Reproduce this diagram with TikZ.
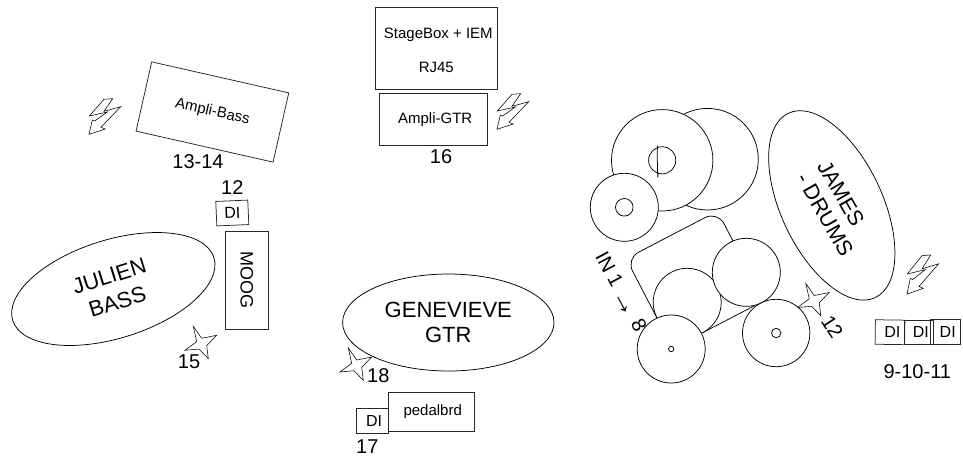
\documentclass[tikz,border=0pt]{standalone}
\usepackage{fontspec}
\setmainfont{Liberation Sans}
\usetikzlibrary{shapes.geometric}
\newcommand{\fsz}[1]{\fontsize{#1}{#1}\selectfont}
\tikzset{
  every path/.style={line width=0.75pt},
  box/.style={draw=black!85,fill=white,rectangle,inner sep=0pt,font=\fsz{15},align=center},
  dibox/.style={box,minimum width=29.5pt,minimum height=24.5pt,font=\fsz{16}},
  person/.style={draw=black,fill=white,ellipse,inner sep=0pt,font=\fsz{22},align=center},
  kit/.style={draw=black,fill=white,circle,inner sep=0pt},
  num/.style={inner sep=0pt,font=\fsz{20}},
  boltline/.style={draw=black,fill=white,line width=0.55pt,line join=miter},
  starline/.style={draw=black,fill=white,line width=0.55pt},
}
\newcommand{\bolt}[3]{\draw[boltline,shift={(#1,#2)},yscale=#3] (7.7,-17.3) -- (-1,-16.7) -- (-15.7,0) -- (2.3,-4) -- (-10.3,5) -- (-12.7,4) -- (-16,18.3) -- (0.3,13) -- (-4,11.3) -- (15.7,-9.3) -- (-1,-4.7) -- cycle;}
\newcommand{\spark}[2]{\draw[starline,shift={(#1,#2)}] (-7.7,-16) -- (0.7,-4) -- (15.7,-7) -- (5.7,3.3) -- (7.3,16.3) -- (-2,6.7) -- (-16,8) -- (-4.3,-0.7) -- cycle;}
\begin{document}
\begin{tikzpicture}[x=1pt,y=-1pt]
\useasboundingbox (0,0) rectangle (963,459);
% Bass corner
\node[box,rotate=-12.75,minimum width=140.5pt,minimum height=71pt] (ampbass) at (212.4,112) {\raisebox{-2.5pt}{Ampli-Bass}};
\bolt{105}{116}{1}
\node[num] (n1314) at (198,161.7) {13-14};
\node[num] (n12a) at (232.3,187.7) {12};
\node[dibox,rotate=2.5,minimum width=32pt] (di12) at (232.3,213) {DI};
\node[person,rotate=17.3,minimum width=210.8pt,minimum height=98.4pt] (julien) at (113.3,289) {JULIEN\\[5pt]BASS};
\node[box,rotate=-90,minimum width=98.3pt,minimum height=43pt,font=\fsz{18}] (moog) at (246.8,280.2) {MOOG};
\spark{201}{342.3}
\node[num] (n15) at (189,361.7) {15};
% Stage centre
\node[box,minimum width=122.7pt,minimum height=82.3pt] (stage) at (436.3,48.2) {\hspace*{4pt}\rule{0pt}{14pt}StageBox + IEM\\[19pt]RJ45};
\node[box,minimum width=107.7pt,minimum height=52pt] (ampgtr) at (433.2,119.7) {\hspace*{4pt}\raisebox{-2.5pt}{Ampli-GTR}};
\bolt{513}{111}{1}
\node[num] (n16) at (441,156.7) {16};
\node[person,minimum width=211.4pt,minimum height=97pt] (gen) at (448.3,322.5) {GENEVIEVE\\[2.5pt]GTR};
\spark{356}{364}
\node[num] (n18) at (378.3,375.3) {18};
\node[box,minimum width=86.3pt,minimum height=38.7pt] (pedal) at (431.2,411.7) {\hspace*{3pt}\raisebox{-2pt}{pedalbrd}};
\node[dibox,minimum width=32pt,minimum height=25pt] (di17) at (372,421.2) {\hspace*{4pt}DI};
\node[num] (n17) at (367.3,446.7) {17};
% Drums
\node[kit,minimum size=101.6pt] (cymb2) at (707.5,159.2) {};
\node[kit,minimum size=101.4pt] (cymb1) at (662.2,160.3) {};
\node[kit,minimum size=27.2pt] (bell1) at (662.2,160.3) {};
\draw (bell1.north) ++(-4.7,-0.6) coordinate (chordtop) .. controls +(-0.6,9) and +(-0.2,18) .. ++(0.6,26);
\node[kit,minimum size=68pt] (cymb3) at (624.3,207.3) {};
\node[kit,minimum size=17.6pt] (bell3) at (624.3,207.3) {};
\node[draw=black,fill=white,rectangle,rounded corners=14pt,rotate=27.5,minimum width=103pt,minimum height=101pt,inner sep=0pt] (rug) at (695.1,279.7) {};
\node[kit,minimum size=68pt] (tomA) at (687.2,302.3) {};
\node[kit,minimum size=68pt] (tomB) at (746.3,272.3) {};
\spark{813.5}{299.5}
\node[kit,minimum size=68pt] (floorA) at (671.2,349) {};
\node[kit,minimum size=5.4pt] (holeA) at (671.2,349) {};
\node[kit,minimum size=67.4pt] (floorB) at (776.2,333) {};
\node[kit,minimum size=9.4pt] (holeB) at (776.2,333) {};
\node[num,rotate=-62] (inlabel) at (620,292) {IN 1 \raisebox{-3pt}{\fsz{28}→} 8};
\node[person,rotate=-64.8,minimum width=203.8pt,minimum height=101.4pt] (james) at (831.8,205.4) {};
\node[inner sep=0pt,rotate=-60,font=\fsz{21.5},align=left] (jamesname) at (835.5,208.5) {JAMES\\[3pt]- DRUMS};
\node[num,rotate=-57] (n12b) at (832.3,326.7) {12};
\bolt{923}{274}{1.1}
\node[dibox,rotate=-0.8] (dia) at (890,332.2) {\hspace*{5pt}DI};
\node[dibox,fill=none,minimum width=29pt] (dib) at (919.3,332.2) {\hspace*{3pt}DI};
\node[dibox,fill=none,minimum width=29.7pt] (dic) at (945.2,331.7) {\hspace*{5pt}DI};
\node[num] (n91011) at (917.3,371.7) {9-10-11};
\end{tikzpicture}
\end{document}
